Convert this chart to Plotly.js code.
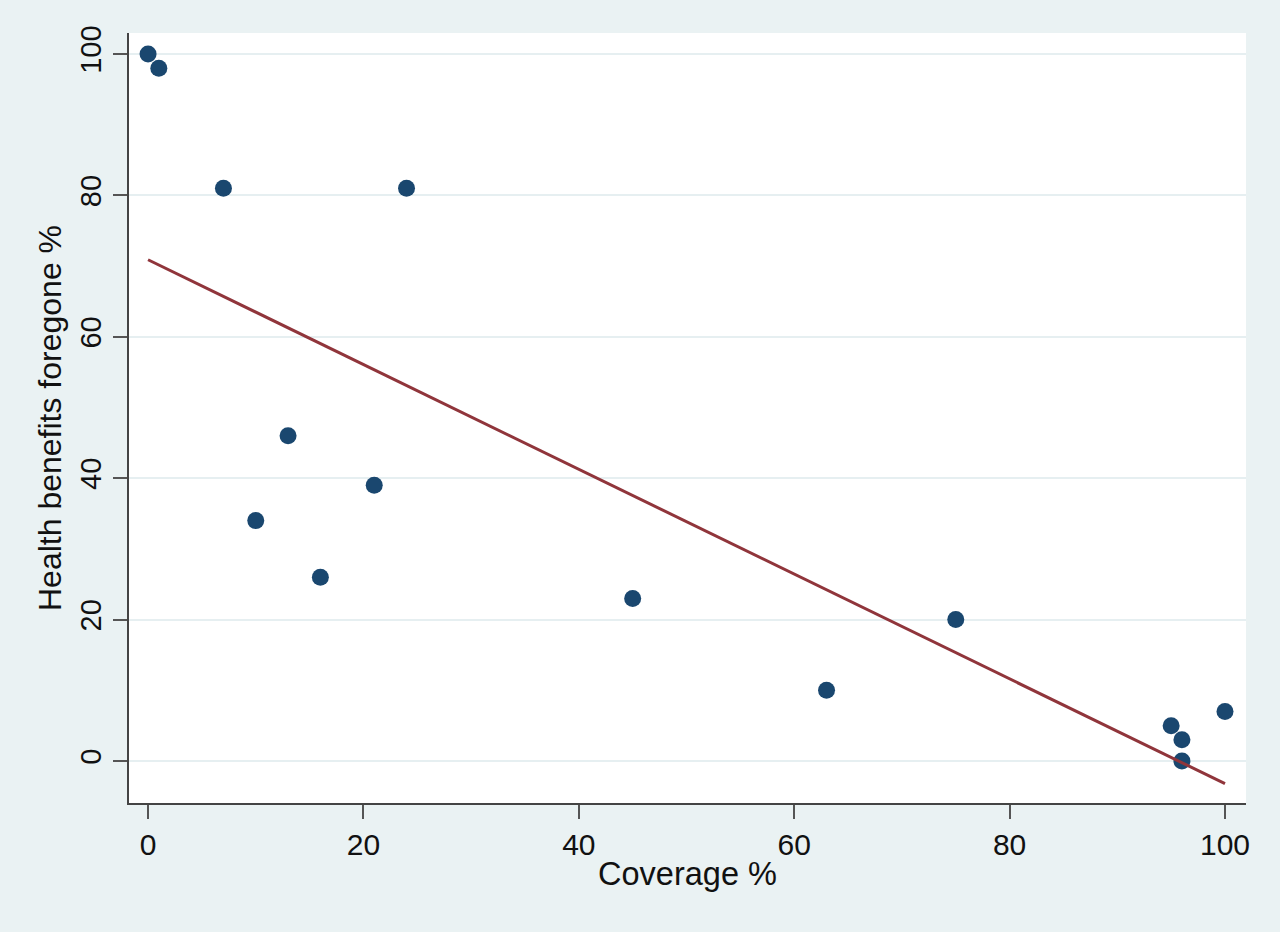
<!DOCTYPE html>
<html>
<head>
<meta charset="utf-8">
<script src="https://cdn.plot.ly/plotly-3.0.1.min.js"></script>
<style>html,body{margin:0;padding:0;background:#eaf2f3;}#chart{width:1280px;height:932px;}</style>
</head>
<body>
<div id="chart"></div>
<script>
const coverage = [0, 1, 7, 24, 13, 21, 10, 16, 45, 75, 63, 95, 96, 96, 100];
const benefitsForegone = [100, 98, 81, 81, 46, 39, 34, 26, 23, 20, 10, 5, 3, 0, 7];
const fitX = [0, 100];
const fitY = [70.9, -3.2];
const xTicks = [0, 20, 40, 60, 80, 100];
const yTicks = [0, 20, 40, 60, 80, 100];

const font = "Liberation Sans, Arial, sans-serif";
const data = [
  {
    x: coverage, y: benefitsForegone, type: 'scatter', mode: 'markers',
    marker: {color: '#1a476f', size: 17, line: {width: 0}},
    cliponaxis: false, showlegend: false
  },
  {
    x: fitX, y: fitY, type: 'scatter', mode: 'lines',
    line: {color: '#90353b', width: 3}, showlegend: false
  }
];
const layout = {
  width: 1280, height: 932,
  paper_bgcolor: '#eaf2f3', plot_bgcolor: '#ffffff',
  margin: {l: 129, r: 34, t: 33, b: 129},
  font: {family: font, color: '#111111', size: 28},
  xaxis: {
    range: [-1.77, 101.95], tickvals: xTicks, ticktext: xTicks.map(String),
    showgrid: false, zeroline: false, showline: true, linecolor: '#444444', linewidth: 2,
    ticks: 'outside', ticklen: 14, tickwidth: 2, tickcolor: '#555555',
    tickfont: {size: 30, family: font},
    title: {text: 'Coverage %', font: {size: 32.5, family: font}, standoff: 2}
  },
  yaxis: {
    range: [-5.94, 102.97], tickvals: yTicks, ticktext: yTicks.map(String),
    tickangle: -90,
    showgrid: true, gridcolor: '#e6eff1', gridwidth: 2, zeroline: false,
    showline: true, linecolor: '#444444', linewidth: 2,
    ticks: 'outside', ticklen: 14, tickwidth: 2, tickcolor: '#555555',
    tickfont: {size: 29, family: font},
    title: {text: 'Health benefits foregone %', font: {size: 32, family: font}, standoff: 4}
  }
};
Plotly.newPlot('chart', data, layout, {staticPlot: true});
</script>
</body>
</html>
